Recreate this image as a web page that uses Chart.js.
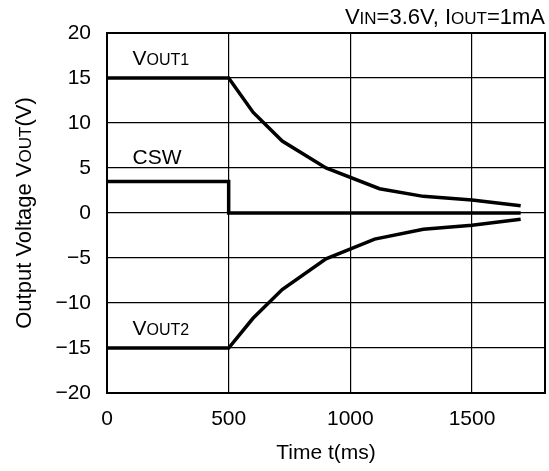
<!DOCTYPE html>
<html>
<head>
<meta charset="utf-8">
<script src="https://cdn.jsdelivr.net/npm/chart.js@4"></script>
<style>
  html, body { margin: 0; padding: 0; background: #fff; }
  canvas { display: block; }
</style>
</head>
<body>
<canvas id="chart" width="549" height="471"></canvas>
<script>
// time axis (ms) and values (V)
const tOut1 = [0, 500, 600, 720, 900, 1120, 1300, 1500, 1700];
const vOut1 = [15, 15, 11.2, 8, 5, 2.7, 1.85, 1.45, 0.8];
const tOut2 = [0, 500, 600, 720, 900, 1100, 1300, 1500, 1700];
const vOut2 = [-15, -15, -11.7, -8.5, -5.1, -2.9, -1.8, -1.35, -0.7];
const tCsw = [0, 500, 500, 1700];
const vCsw = [3.5, 3.5, 0, 0];
const xTicks = [0, 500, 1000, 1500];
const yTicks = [-20, -15, -10, -5, 0, 5, 10, 15, 20];

const FONT = '"Liberation Sans", Arial, sans-serif';
const toPts = (xs, ys) => xs.map((x, i) => ({ x: x, y: ys[i] }));

// text pieces with smaller caps, like V(OUT)
function drawRuns(ctx, runs, x, y, align) {
  let w = 0;
  runs.forEach(r => { ctx.font = r.s + 'px ' + FONT; w += ctx.measureText(r.t).width; });
  let cx = align === 'right' ? x - w : align === 'center' ? x - w / 2 : x;
  ctx.textAlign = 'left';
  ctx.textBaseline = 'alphabetic';
  runs.forEach(r => {
    ctx.font = r.s + 'px ' + FONT;
    ctx.fillText(r.t, cx, y);
    cx += ctx.measureText(r.t).width;
  });
}

const labelsPlugin = {
  id: 'labels',
  afterDraw(chart) {
    const ctx = chart.ctx;
    const a = chart.chartArea;
    const xs = chart.scales.x, ys = chart.scales.y;
    ctx.save();
    ctx.strokeStyle = '#000';
    ctx.lineWidth = 2;
    ctx.strokeRect(a.left, a.top, a.right - a.left, a.bottom - a.top);
    ctx.fillStyle = '#000';
    drawRuns(ctx, [{t:'V', s:22}, {t:'IN', s:17}, {t:'=3.6V, I', s:22}, {t:'OUT', s:17}, {t:'=1mA', s:22}], a.right, 24, 'right');
    drawRuns(ctx, [{t:'V', s:21}, {t:'OUT1', s:16}], xs.getPixelForValue(105), ys.getPixelForValue(16.5), 'left');
    drawRuns(ctx, [{t:'CSW', s:21}], xs.getPixelForValue(105), ys.getPixelForValue(5.5), 'left');
    drawRuns(ctx, [{t:'V', s:21}, {t:'OUT2', s:16}], xs.getPixelForValue(105), ys.getPixelForValue(-13.6), 'left');
    drawRuns(ctx, [{t:'Time t(ms)', s:21}], (a.left + a.right) / 2, 459, 'center');
    ctx.translate(31, (a.top + a.bottom) / 2);
    ctx.rotate(-Math.PI / 2);
    drawRuns(ctx, [{t:'Output Voltage V', s:22}, {t:'OUT', s:17}, {t:'(V)', s:22}], 0, 0, 'center');
    ctx.restore();
  }
};

const lineStyle = { borderColor: '#000', borderWidth: 3.5, pointRadius: 0, tension: 0, fill: false };

new Chart(document.getElementById('chart'), {
  type: 'line',
  data: {
    datasets: [
      Object.assign({ label: 'VOUT1', data: toPts(tOut1, vOut1) }, lineStyle),
      Object.assign({ label: 'CSW', data: toPts(tCsw, vCsw) }, lineStyle),
      Object.assign({ label: 'VOUT2', data: toPts(tOut2, vOut2) }, lineStyle)
    ]
  },
  options: {
    responsive: false,
    animation: false,
    devicePixelRatio: 1,
    layout: { padding: { top: 33, right: 4, left: 0, bottom: 0 } },
    plugins: { legend: { display: false }, tooltip: { enabled: false } },
    scales: {
      x: {
        type: 'linear',
        min: 0,
        max: 1800,
        afterBuildTicks: s => { s.ticks = xTicks.map(v => ({ value: v })); },
        afterFit: s => { s.height = 78; },
        grid: { color: '#000', lineWidth: 1.2, drawTicks: false },
        border: { color: '#000', width: 2 },
        ticks: {
          color: '#000', padding: 14, maxRotation: 0, font: { family: FONT, size: 21 },
          callback: v => String(v)
        }
      },
      y: {
        type: 'linear',
        min: -20,
        max: 20,
        afterBuildTicks: s => { s.ticks = yTicks.map(v => ({ value: v })); },
        afterFit: s => { s.width = 107; },
        grid: { color: '#000', lineWidth: 1.2, drawTicks: false },
        border: { color: '#000', width: 2 },
        ticks: {
          color: '#000', padding: 16, font: { family: FONT, size: 21 },
          callback: v => (v < 0 ? '\u2212' + Math.abs(v) : String(v))
        }
      }
    }
  },
  plugins: [labelsPlugin]
});
</script>
</body>
</html>
